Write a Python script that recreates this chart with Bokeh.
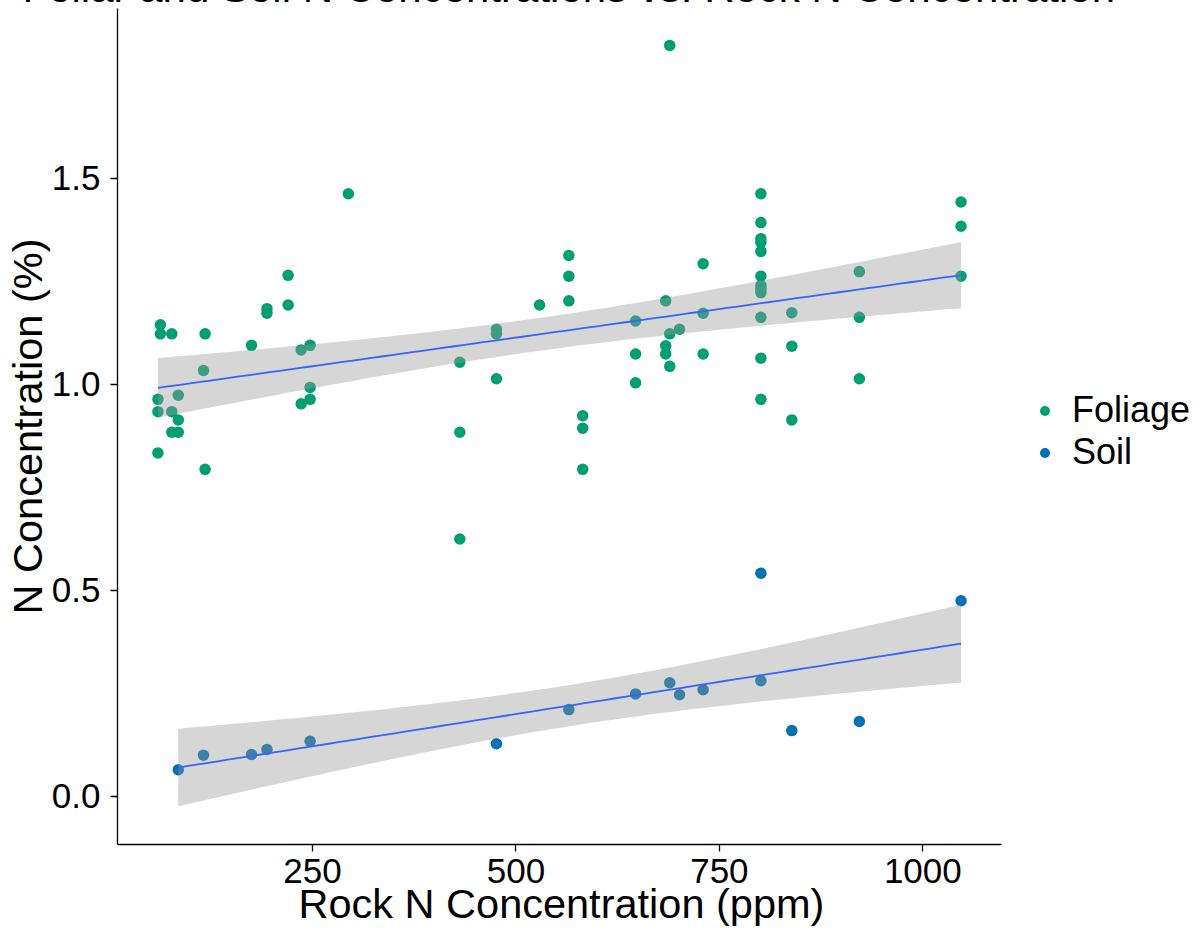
import math
import numpy as np
from bokeh.plotting import figure
from bokeh.models import (ColumnDataSource, Legend, LegendItem, FixedTicker,
                          NumeralTickFormatter, Range1d, Title)
from bokeh.embed import file_html
from bokeh.resources import INLINE

# ---------------- data ----------------
foliage_rock = [60, 60, 60, 63, 63, 77, 77, 77, 85, 85, 85, 116, 118, 118,
                175, 194, 194, 220, 220, 236, 236, 247, 247, 247, 294,
                431, 431, 431, 476, 476, 476, 529, 565, 565, 565,
                582, 582, 582, 647, 647, 647, 684, 684, 684, 689, 689, 689,
                701, 730, 730, 730,
                801, 801, 801, 801, 801, 801, 801, 801, 801, 801, 801, 801,
                839, 839, 839, 922, 922, 922, 1047, 1047, 1047]
foliage_n = [0.963, 0.933, 0.833, 1.144, 1.122, 1.122, 0.933, 0.883, 0.973, 0.913, 0.883,
             1.033, 1.122, 0.793, 1.094, 1.183, 1.172, 1.192, 1.264, 1.083, 0.952,
             1.094, 0.992, 0.963, 1.462,
             1.053, 0.883, 0.624, 1.133, 1.122, 1.013, 1.192, 1.312, 1.262, 1.202,
             0.923, 0.893, 0.793, 1.153, 1.073, 1.003, 1.202, 1.093, 1.073,
             1.122, 1.043, 1.822, 1.133, 1.292, 1.172, 1.073,
             1.462, 1.392, 1.353, 1.344, 1.322, 1.262, 1.239, 1.231, 1.222, 1.162, 1.063, 0.963,
             1.173, 1.092, 0.913, 1.273, 1.162, 1.013, 1.442, 1.383, 1.262]

soil_rock = [85, 116, 175, 194, 247, 476, 565, 647, 689, 701, 730, 801, 801, 839, 922, 1047]
soil_n = [0.064, 0.099, 0.101, 0.113, 0.133, 0.127, 0.210, 0.248, 0.275, 0.246,
          0.258, 0.280, 0.541, 0.159, 0.181, 0.474]

groups = ["Foliage", "Soil"]
group_colors = ["#009E73", "#0072B2"]
x_ticks = [250, 500, 750, 1000]
y_ticks = [0.0, 0.5, 1.0, 1.5]

title_text = "Foliar and Soil N Concentrations vs. Rock N Concentration"
x_title = "Rock N Concentration (ppm)"
y_title = "N Concentration (%)"

FONT = "Liberation Sans"

# axis extents (data units) of the panel drawn by the axes
X_LO, X_HI = 10.3, 1096.7
Y_LO, Y_HI = -0.1175, 1.9116


# ---------------- lm fit with 95% confidence band ----------------
def t_ppf(p, df):
    c = math.exp(math.lgamma((df + 1) / 2) - math.lgamma(df / 2)) / math.sqrt(df * math.pi)

    def cdf(t):
        xs = np.linspace(0, t, 4001)
        ys = c * (1 + xs ** 2 / df) ** (-(df + 1) / 2)
        return 0.5 + np.trapezoid(ys, xs)

    lo, hi = 0.0, 20.0
    for _ in range(60):
        mid = (lo + hi) / 2
        if cdf(mid) < p:
            lo = mid
        else:
            hi = mid
    return (lo + hi) / 2


def lm_band(x, y, n_out=80):
    x = np.asarray(x, float)
    y = np.asarray(y, float)
    n = len(x)
    xb = x.mean()
    sxx = ((x - xb) ** 2).sum()
    b = ((x - xb) * (y - y.mean())).sum() / sxx
    a = y.mean() - b * xb
    resid = y - (a + b * x)
    s = math.sqrt((resid ** 2).sum() / (n - 2))
    xs = np.linspace(x.min(), x.max(), n_out)
    yh = a + b * xs
    se = s * np.sqrt(1 / n + (xs - xb) ** 2 / sxx)
    t = t_ppf(0.975, n - 2)
    return xs, yh, yh - t * se, yh + t * se


# ---------------- geometry ----------------
W, H = 1196, 974
B_LEFT, B_TOP, B_BOTTOM = 117, 50, 88
frame_w = W - B_LEFT
axis_px = 884  # pixels spanned by the x axis
x_end = X_LO + (X_HI - X_LO) * frame_w / axis_px

p = figure(width=W, height=H, output_backend="svg", toolbar_location=None,
           x_range=Range1d(X_LO, x_end), y_range=Range1d(Y_LO, Y_HI),
           min_border_left=B_LEFT, min_border_right=0, min_border_top=B_TOP,
           min_border_bottom=B_BOTTOM)
# the source picture is cropped: only the foot of the title is visible
p.styles = {"margin-top": "-42px"}
p.outline_line_color = None
p.background_fill_color = "white"
p.border_fill_color = "white"
p.xgrid.visible = False
p.ygrid.visible = False

renderers = []
for name, xs, ys, col in [("Foliage", foliage_rock, foliage_n, group_colors[0]),
                          ("Soil", soil_rock, soil_n, group_colors[1])]:
    src = ColumnDataSource(dict(x=xs, y=ys))
    r = p.scatter("x", "y", source=src, size=11.5, fill_color=col, line_color=col,
                  line_width=0)
    renderers.append((name, r))

for xs, ys in [(foliage_rock, foliage_n), (soil_rock, soil_n)]:
    fx, fy, lo, hi = lm_band(xs, ys)
    band = ColumnDataSource(dict(x=fx, y=fy, lo=lo, hi=hi))
    p.varea(x="x", y1="lo", y2="hi", source=band, fill_color="#999999", fill_alpha=0.4)
    p.line(x="x", y="y", source=band, line_color="#3366FF", line_width=1.8)

for ax in (p.xaxis[0], p.yaxis[0]):
    ax.axis_line_color = "black"
    ax.axis_line_width = 1.3
    ax.major_tick_line_color = "black"
    ax.major_tick_line_width = 1.3
    ax.major_tick_out = 7
    ax.major_tick_in = 0
    ax.minor_tick_line_color = None
    ax.major_label_text_font = FONT
    ax.major_label_text_font_size = "35px"
    ax.major_label_text_color = "black"
    ax.axis_label_text_font = FONT
    ax.axis_label_text_font_size = "41.5px"
    ax.axis_label_text_font_style = "normal"
    ax.axis_label_text_color = "black"

p.xaxis.bounds = (X_LO, X_HI)
p.xaxis.ticker = FixedTicker(ticks=x_ticks)
p.yaxis.ticker = FixedTicker(ticks=y_ticks)
p.yaxis.formatter = NumeralTickFormatter(format="0.0")
p.yaxis.axis_label = y_title
p.xaxis.major_label_standoff = 7
p.yaxis.major_label_standoff = 10
p.yaxis.axis_label_standoff = -2

legend = Legend(items=[LegendItem(label=n, renderers=[r]) for n, r in renderers],
                location=(915, 371), margin=0, padding=0, spacing=0,
                label_text_font=FONT, label_text_font_size="36px",
                label_text_color="black",
                label_standoff=15, glyph_width=25, glyph_height=25,
                border_line_color=None, background_fill_alpha=0)
p.add_layout(legend)

# chart title (only its foot is inside the picture)
title = Title(text=title_text, align="left", offset=-95, standoff=-4,
              vertical_align="bottom", text_font=FONT, text_font_size="42px",
              text_font_style="normal", text_color="black")
p.add_layout(title, "above")

# x-axis title, centred under the drawn axis (not under the wider frame)
xlab = Title(text=x_title, align="left", offset=181, standoff=-11,
             vertical_align="top", text_font=FONT, text_font_size="41.5px",
             text_font_style="normal", text_color="black")
p.add_layout(xlab, "below")

open("out.html", "w").write(file_html(p, INLINE))
